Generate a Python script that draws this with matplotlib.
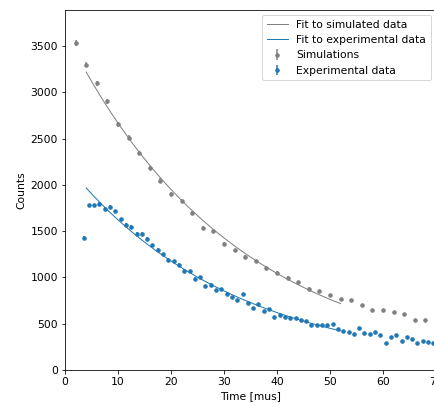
# -*- coding: utf-8 -*-
"""
Plot decay counts: simulation vs experiment, with exponential fits.
"""
import numpy as np
import matplotlib
matplotlib.use('Agg')
import matplotlib.pyplot as plt

plt.rcParams['font.size'] = 10.7

# simulated counts, every 2 mus
t_sim = np.arange(2, 71, 2)
counts_sim = np.array([3535, 3301, 3096, 2906, 2654, 2511, 2346, 2180, 2047, 1904,
                       1822, 1699, 1534, 1498, 1365, 1293, 1225, 1175, 1099, 1053,
                       995, 948, 877, 851, 808, 765, 754, 697, 647, 647,
                       622, 600, 539, 539, 539])

# experimental counts, every 1 mus starting at 3.5
t_exp = np.arange(3.5, 70, 1.0)
counts_exp = np.array([1426, 1778, 1778, 1789, 1738, 1764, 1713, 1627, 1570, 1544,
                       1473, 1473, 1415, 1347, 1300, 1250, 1193, 1175, 1139, 1070,
                       1067, 988, 1005, 908, 923, 865, 876, 826, 790, 754,
                       819, 729, 671, 708, 636, 661, 571, 593, 571, 560,
                       557, 535, 533, 485, 481, 485, 481, 496, 439, 424,
                       413, 385, 453, 395, 385, 413, 374, 288, 359, 381,
                       309, 359, 334, 288, 316, 305, 294])

fit_range = (4, 52)


def exp_fit(t, y, lo, hi):
    # weighted log-linear fit of y = A*exp(-t/tau)
    m = (t >= lo) & (t <= hi)
    p = np.polyfit(t[m], np.log(y[m]), 1, w=np.sqrt(y[m]))
    return lambda tt: np.exp(np.polyval(p, tt))


f_sim = exp_fit(t_sim, counts_sim, *fit_range)
f_exp = exp_fit(t_exp, counts_exp, *fit_range)
t_fit = np.linspace(fit_range[0], fit_range[1], 200)

fig = plt.figure(figsize=(434 / 72, 405 / 72), dpi=72)
ax = fig.add_axes([65 / 434, 35 / 405, 371 / 434, 360 / 405])

ax.plot(t_fit, f_sim(t_fit), color='gray', lw=1, label='Fit to simulated data')
ax.plot(t_fit, f_exp(t_fit), color='C0', lw=1, label='Fit to experimental data')
# error bars: roughly half of sqrt(N)
ax.errorbar(t_sim, counts_sim, yerr=np.sqrt(counts_sim) / 2, fmt='.', color='gray',
            ms=7, label='Simulations')
ax.errorbar(t_exp, counts_exp, yerr=np.sqrt(counts_exp) / 2, fmt='.', color='C0',
            ms=7, label='Experimental data')

ax.set_xlim(0, 70)
ax.set_ylim(0, 3890)
ax.set_xlabel('Time [mus]')
ax.set_ylabel('Counts')
ax.legend(loc='upper right')

fig.savefig('out.png', dpi=72)
